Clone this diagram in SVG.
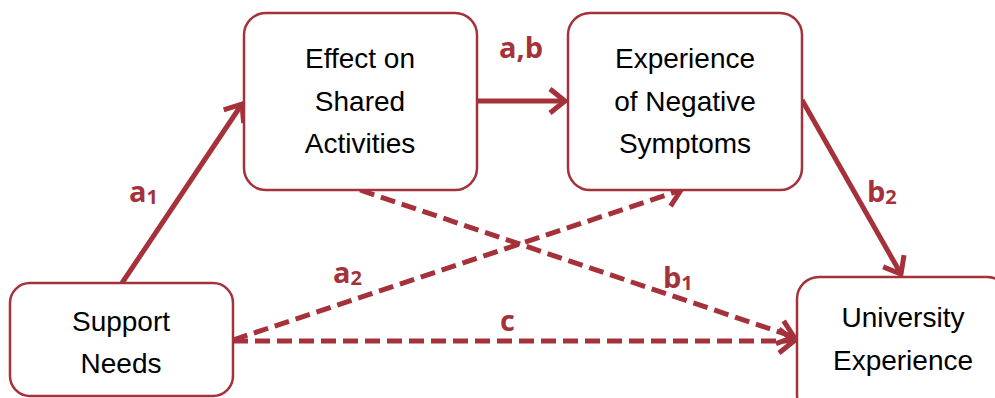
<svg xmlns="http://www.w3.org/2000/svg" width="995" height="398" viewBox="0 0 995 398">
<defs>
<style>
.box{fill:#fff;stroke:#A5323A;stroke-width:2.5}
.t{font-family:"Liberation Sans",Arial,sans-serif;font-size:28px;fill:#000;text-anchor:middle}
.lbl{font-family:"Open Sans","Liberation Sans",sans-serif;font-size:29px;font-weight:bold;fill:#A5323A}
.sub{font-size:20px}
.c{stroke:#A5323A;stroke-width:5;fill:none}
.d{stroke-dasharray:15 7}
</style>
<marker id="ah" markerUnits="userSpaceOnUse" markerWidth="40" markerHeight="40" viewBox="-30 -20 40 40" refX="0" refY="0" orient="auto">
<path d="M-15,-12 L0,0 L-15,12" fill="none" stroke="#A5323A" stroke-width="5" stroke-linejoin="miter"/>
</marker>
</defs>
<g id="connectors">
<line class="c" x1="122" y1="283" x2="242" y2="104" marker-end="url(#ah)"/>
<line class="c" x1="477" y1="101" x2="565" y2="101" marker-end="url(#ah)"/>
<line class="c" x1="802" y1="100" x2="901" y2="274" marker-end="url(#ah)"/>
<line class="c d" x1="233" y1="340" x2="681" y2="190" marker-end="url(#ah)"/>
<line class="c d" x1="360" y1="190" x2="794" y2="337" marker-end="url(#ah)"/>
<line class="c d" x1="233" y1="341" x2="794" y2="341" marker-end="url(#ah)"/>
</g>
<g id="labels">
<text class="lbl" x="129" y="202">a<tspan class="sub" dy="2">1</tspan></text>
<text class="lbl" x="499" y="58">a,b</text>
<text class="lbl" x="867" y="202">b<tspan class="sub" dy="2">2</tspan></text>
<text class="lbl" x="333" y="283">a<tspan class="sub" dy="2">2</tspan></text>
<text class="lbl" x="663" y="288">b<tspan class="sub" dy="2">1</tspan></text>
<text class="lbl" x="500" y="331">c</text>
</g>
<g id="support-needs">
<rect class="box" x="10" y="283" width="223" height="113" rx="20"/>
<text class="t" x="121" y="331">Support</text>
<text class="t" x="121" y="373">Needs</text>
</g>
<g id="effect-on-shared-activities">
<rect class="box" x="244" y="13" width="233" height="177" rx="22"/>
<text class="t" x="360" y="68">Effect on</text>
<text class="t" x="360" y="111">Shared</text>
<text class="t" x="360" y="153">Activities</text>
</g>
<g id="experience-of-negative-symptoms">
<rect class="box" x="568" y="13" width="234" height="177" rx="22"/>
<text class="t" x="685" y="68">Experience</text>
<text class="t" x="685" y="111">of Negative</text>
<text class="t" x="685" y="153">Symptoms</text>
</g>
<g id="university-experience">
<rect class="box" x="797" y="277" width="212" height="140" rx="22"/>
<text class="t" x="903" y="327">University</text>
<text class="t" x="903" y="370">Experience</text>
</g>
</svg>
